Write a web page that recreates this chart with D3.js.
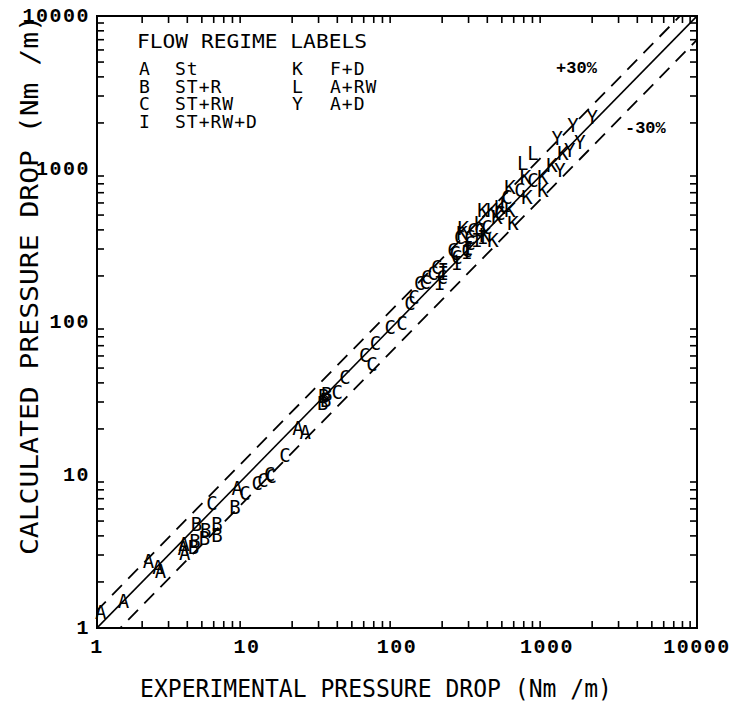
<!DOCTYPE html>
<html>
<head>
<meta charset="utf-8">
<script src="https://cdn.jsdelivr.net/npm/d3@7"></script>
<style>
  body { margin: 0; background: #fff; }
  svg { display: block; }
</style>
</head>
<body>
<div id="chart"></div>
<script>
// Experimental vs calculated pressure drop, points labelled by flow regime
const regimes = ["A", "B", "C", "I", "K", "L", "Y"];
const legendLeft = [["A", "St"], ["B", "ST+R"], ["C", "ST+RW"], ["I", "ST+RW+D"]];
const legendRight = [["K", "F+D"], ["L", "A+RW"], ["Y", "A+D"]];
const tickValues = [1, 10, 100, 1000, 10000];

// [experimental, calculated]
const pointsA = [[1.06, 1.27], [1.5, 1.5], [2.2, 2.75], [2.55, 2.5], [2.65, 2.35], [3.75, 3.35],
  [3.85, 3.1], [3.8, 3.55], [8.6, 8.2], [21.9, 20.3], [24.4, 19.1]];
const pointsB = [[4.5, 3.7], [4.6, 4.8], [5.2, 3.9], [5.3, 4.4], [6.3, 4.8], [6.3, 4.05], [4.4, 3.4],
  [8.3, 6.2], [32, 29.5], [32.5, 32.8], [34, 34], [33.5, 31]];
const pointsC = [[5.85, 6.55], [9.7, 7.6], [11.7, 8.9], [12.8, 9.3], [14.2, 10.2], [14.5, 9.9],
  [17.9, 13.5], [40, 35], [45, 43.5], [61, 61], [68, 53], [72, 73], [90, 93], [108, 98],
  [122, 133], [130, 146], [142, 180], [154, 183], [158, 197], [174, 209], [184, 229],
  [200, 197], [236, 296], [244, 282], [251, 266], [262, 359], [293, 296], [307, 328],
  [307, 359], [321, 399], [357, 399], [398, 418], [486, 516], [541, 656], [660, 730], [807, 847]];
const pointsI = [[203, 219], [203, 209], [193, 180], [251, 243], [293, 287], [297, 305], [341, 344], [374, 359]];
const pointsK = [[271, 382], [276, 411], [357, 444], [374, 540], [386, 370], [430, 540], [437, 344],
  [464, 486], [486, 565], [567, 540], [567, 763], [593, 444], [720, 890], [735, 656],
  [940, 730], [940, 890], [1080, 1060], [1280, 1270]];
const pointsL = [[525, 582], [690, 1090], [807, 1270]];
const pointsY = [[1220, 985], [1420, 1330], [1490, 1940], [1660, 1500], [1170, 1600], [2000, 2190]];

const seriesByRegime = { A: pointsA, B: pointsB, C: pointsC, I: pointsI, K: pointsK, L: pointsL, Y: pointsY };

const width = 733, height = 716;
const margin = { top: 16, right: 36, bottom: 88, left: 97 };
const plotW = width - margin.left - margin.right;
const plotH = height - margin.top - margin.bottom;

const svg = d3.select("#chart").append("svg")
  .attr("width", width)
  .attr("height", height);

const g = svg.append("g")
  .attr("transform", `translate(${margin.left},${margin.top})`);

const x = d3.scaleLog().domain([1, 10000]).range([0, plotW]);
const y = d3.scaleLog().domain([1, 10000]).range([plotH, 0]);

const monoFont = "'DejaVu Sans Mono', monospace";
const tickFont = "'Liberation Mono', monospace";

// minor ticks 2..9 in every decade
const minorTicks = [];
for (let dec = 1; dec < 10000; dec *= 10) {
  for (let m = 2; m <= 9; m++) minorTicks.push(dec * m);
}
const tickLen = 7;

// frame ticks, all pointing inward
g.selectAll(".tb").data(minorTicks).enter().append("line")
  .attr("x1", d => x(d)).attr("x2", d => x(d))
  .attr("y1", plotH).attr("y2", plotH - tickLen)
  .attr("stroke", "#000").attr("stroke-width", 1.6);
g.selectAll(".tt").data(minorTicks).enter().append("line")
  .attr("x1", d => x(d)).attr("x2", d => x(d))
  .attr("y1", 0).attr("y2", tickLen)
  .attr("stroke", "#000").attr("stroke-width", 1.6);
g.selectAll(".tl").data(minorTicks).enter().append("line")
  .attr("y1", d => y(d)).attr("y2", d => y(d))
  .attr("x1", 0).attr("x2", tickLen)
  .attr("stroke", "#000").attr("stroke-width", 1.6);
g.selectAll(".tr").data(minorTicks).enter().append("line")
  .attr("y1", d => y(d)).attr("y2", d => y(d))
  .attr("x1", plotW).attr("x2", plotW - tickLen)
  .attr("stroke", "#000").attr("stroke-width", 1.6);

g.append("rect")
  .attr("width", plotW).attr("height", plotH)
  .attr("fill", "none").attr("stroke", "#000").attr("stroke-width", 2);

// tick labels
g.selectAll(".xl").data(tickValues).enter().append("text")
  .attr("x", d => x(d)).attr("y", plotH + 25)
  .attr("text-anchor", "middle")
  .style("font-family", tickFont).style("font-weight", "bold")
  .style("font-size", "20px").style("letter-spacing", "1.5px")
  .text(d => d);
g.selectAll(".yl").data(tickValues).enter().append("text")
  .attr("x", -7).attr("y", d => y(d) + 6)
  .attr("text-anchor", "end")
  .style("font-family", tickFont).style("font-weight", "bold")
  .style("font-size", "20px").style("letter-spacing", "1.5px")
  .text(d => d);

// 1:1 line and +/-30% bands
g.append("clipPath").attr("id", "plotclip")
  .append("rect").attr("width", plotW).attr("height", plotH);
const lineFor = f => d3.line()
  .x(d => x(d))
  .y(d => y(f(d)));
const span = [1 / 1.3, 10000 * 1.3];
g.append("path").datum(span)
  .attr("d", lineFor(v => v))
  .attr("clip-path", "url(#plotclip)")
  .attr("fill", "none").attr("stroke", "#000").attr("stroke-width", 1.6);
[1.3, 0.7].forEach(k => {
  g.append("path").datum(span)
    .attr("d", lineFor(v => v * k))
    .attr("clip-path", "url(#plotclip)")
    .attr("fill", "none").attr("stroke", "#000").attr("stroke-width", 1.8)
    .attr("stroke-dasharray", "14,9");
});

g.append("text").attr("x", x(1150)).attr("y", y(4240))
  .style("font-family", tickFont).style("font-weight", "bold").style("font-size", "17px")
  .text("+30%");
g.append("text").attr("x", x(3310)).attr("y", y(1720))
  .style("font-family", tickFont).style("font-weight", "bold").style("font-size", "17px")
  .text("-30%");

// data points drawn as regime letters
regimes.forEach(r => {
  g.selectAll(".pt-" + r).data(seriesByRegime[r]).enter().append("text")
    .attr("class", "pt-" + r)
    .attr("x", d => x(d[0]))
    .attr("y", d => y(d[1]) + 7)
    .attr("text-anchor", "middle")
    .style("font-family", monoFont)
    .style("font-size", "19px")
    .text(r);
});

// legend
const legend = g.append("g").attr("transform", "translate(40,32)");
legend.append("text").attr("x", 0).attr("y", 0)
  .attr("textLength", 230).attr("lengthAdjust", "spacingAndGlyphs")
  .style("font-family", monoFont).style("font-size", "19px")
  .text("FLOW REGIME LABELS");
legendLeft.forEach((row, i) => {
  legend.append("text").attr("x", 2).attr("y", 27 + i * 17.5)
    .style("font-family", monoFont).style("font-size", "18px").text(row[0]);
  legend.append("text").attr("x", 38).attr("y", 27 + i * 17.5)
    .style("font-family", monoFont).style("font-size", "18px").style("letter-spacing", "1px").text(row[1]);
});
legendRight.forEach((row, i) => {
  legend.append("text").attr("x", 155).attr("y", 27 + i * 17.5)
    .style("font-family", monoFont).style("font-size", "18px").text(row[0]);
  legend.append("text").attr("x", 193).attr("y", 27 + i * 17.5)
    .style("font-family", monoFont).style("font-size", "18px").style("letter-spacing", "1px").text(row[1]);
});

// axis titles
svg.append("text")
  .attr("x", 140).attr("y", 697)
  .attr("textLength", 472).attr("lengthAdjust", "spacingAndGlyphs")
  .style("font-family", monoFont).style("font-size", "25px")
  .text("EXPERIMENTAL PRESSURE DROP (Nm /m)");
svg.append("text")
  .attr("transform", "translate(38,555) rotate(-90)")
  .attr("textLength", 540).attr("lengthAdjust", "spacingAndGlyphs")
  .style("font-family", monoFont).style("font-size", "25px")
  .text("CALCULATED PRESSURE DROP (Nm /m)");
</script>
</body>
</html>
